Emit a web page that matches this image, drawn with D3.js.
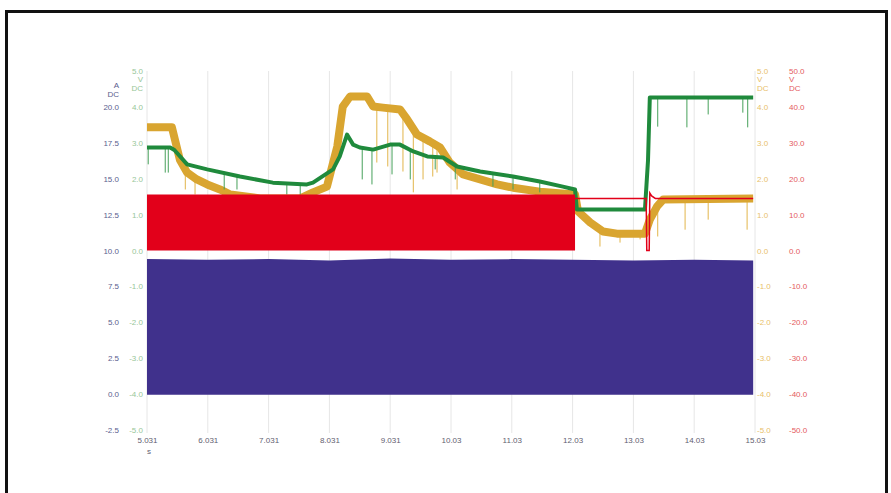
<!DOCTYPE html>
<html>
<head>
<meta charset="utf-8">
<script src="https://cdn.jsdelivr.net/npm/d3@7"></script>
<style>
  body { margin: 0; background: #fff; }
  svg { display: block; font-family: "Liberation Sans", Arial, sans-serif; }
</style>
</head>
<body>
<svg id="chart" width="891" height="493"></svg>
<script>
// time axis (s)
const timeTicks = [5, 6, 7, 8, 9, 10, 11, 12, 13, 14, 15];
const timeLabels = ["5.031", "6.031", "7.031", "8.031", "9.031", "10.03", "11.03", "12.03", "13.03", "14.03", "15.03"];

const ampTicks = [-2.5, 0, 2.5, 5, 7.5, 10, 12.5, 15, 17.5, 20];
const voltTicks = [-5, -4, -3, -2, -1, 0, 1, 2, 3, 4, 5];
const redTicks = [-50, -40, -30, -20, -10, 0, 10, 20, 30, 40, 50];

// green trace [t, V]
const greenT = [5.00, 5.38, 5.45, 5.66, 5.99, 6.53, 7.07, 7.63, 7.73, 8.06, 8.17, 8.29, 8.39, 8.50, 8.72, 9.00, 9.16, 9.38, 9.61, 9.87, 10.10, 10.48, 11.02, 11.46, 11.84, 12.04, 12.07, 13.19, 13.24, 13.27, 14.97];
const greenV = [2.87, 2.87, 2.80, 2.40, 2.26, 2.06, 1.89, 1.84, 1.89, 2.26, 2.62, 3.23, 2.95, 2.87, 2.81, 2.95, 2.95, 2.76, 2.62, 2.59, 2.34, 2.20, 2.06, 1.92, 1.78, 1.70, 1.14, 1.14, 2.50, 4.26, 4.26];
// green dropouts [t, low V]
const greenSpikeT = [5.02, 5.30, 5.35, 6.27, 6.48, 7.30, 7.52, 8.54, 8.70, 9.03, 9.33, 9.74, 10.07, 10.69, 11.02, 11.46, 13.40, 13.88, 14.23, 14.80, 14.88];
const greenSpikeV = [2.40, 2.17, 2.17, 1.70, 1.70, 1.56, 1.56, 1.98, 1.84, 2.12, 1.98, 2.26, 1.98, 1.78, 1.70, 1.62, 3.45, 3.43, 3.79, 3.84, 3.43];

// yellow trace [t, V]
const yellowT = [5.00, 5.41, 5.54, 5.66, 5.82, 5.99, 6.20, 6.37, 6.86, 7.52, 7.73, 7.96, 8.13, 8.22, 8.34, 8.62, 8.72, 8.88, 9.16, 9.28, 9.44, 9.65, 9.82, 9.98, 10.20, 10.48, 10.76, 11.02, 11.46, 12.04, 12.09, 12.29, 12.50, 12.73, 13.19, 13.27, 13.39, 13.49, 14.97];
const yellowV = [3.43, 3.43, 2.53, 2.17, 1.98, 1.84, 1.70, 1.56, 1.45, 1.45, 1.62, 1.78, 2.90, 4.01, 4.29, 4.29, 4.01, 3.98, 3.93, 3.65, 3.23, 3.04, 2.87, 2.45, 2.12, 1.98, 1.84, 1.75, 1.64, 1.56, 1.09, 0.78, 0.53, 0.47, 0.47, 0.86, 1.23, 1.42, 1.45];
const yellowSpikeT = [5.63, 5.79, 8.78, 8.96, 9.21, 9.38, 9.54, 9.70, 9.77, 10.10, 12.45, 12.78, 13.11, 13.40, 13.85, 14.23, 14.87];
const yellowSpikeV = [1.70, 1.56, 2.45, 2.34, 2.20, 1.62, 1.98, 2.06, 2.17, 1.70, 0.11, 0.22, 0.31, 0.39, 0.58, 0.86, 0.58];

// red PWM envelope (V) then single trace
const redBandT = [5.00, 12.04];
const redBandMin = [0, 0];
const redBandMax = [15.6, 15.6];
const redT = [12.04, 13.21, 13.22, 13.26, 13.27, 13.30, 13.36, 14.97];
const redV = [14.5, 14.5, 0, 0, 16.0, 15.2, 14.5, 14.5];

// blue current envelope (A)
const blueT = [5.00, 6.00, 7.00, 8.00, 9.00, 10.00, 11.00, 12.00, 13.00, 14.00, 14.97];
const blueMax = [9.40, 9.35, 9.40, 9.30, 9.45, 9.35, 9.40, 9.35, 9.30, 9.35, 9.30];
const blueMin = [-0.05, -0.05, -0.05, -0.05, -0.05, -0.05, -0.05, -0.05, -0.05, -0.05, -0.05];

const svg = d3.select("#chart");

// frame
svg.append("path")
  .attr("d", "M6.5,500 L6.5,11.5 L886.5,11.5 L886.5,500")
  .attr("fill", "none").attr("stroke", "#111").attr("stroke-width", 3);

const x = d3.scaleLinear().domain([5, 15]).range([147, 755]);
const yA = d3.scaleLinear().domain([-2.5, 22.5]).range([430, 71]);
const yV = d3.scaleLinear().domain([-5, 5]).range([430, 71]);
const yR = d3.scaleLinear().domain([-50, 50]).range([430, 71]);

const fmt = function ( d ) { return d.toFixed( 1 ); };

function valAt( ts, vs, t ) {
  const i = Math.max(1, d3.bisectLeft(ts, t));
  const t0 = ts[i - 1], t1 = ts[i];
  return vs[i - 1] + (vs[i] - vs[i - 1]) * (t - t0) / (t1 - t0);
}

// vertical grid
svg.append("g").selectAll("line").data(timeTicks).enter().append("line")
  .attr("x1", d => x(d)).attr("x2", d => x(d))
  .attr("y1", 71).attr("y2", 433)
  .attr("stroke", "#e6e6e6").attr("stroke-width", 1);

function styleAxis( g, color ) {
  g.select(".domain").remove();
  g.selectAll("text").attr("fill", color).style("font-size", "8px");
}

// left axes
svg.append("g").attr("transform", "translate(119,0)")
  .call(d3.axisLeft(yA).tickValues(ampTicks).tickSize(0).tickPadding(0).tickFormat(fmt))
  .call(g => styleAxis(g, "#5a5e8e"));
svg.append("g").attr("transform", "translate(143,0)")
  .call(d3.axisLeft(yV).tickValues(voltTicks).tickSize(0).tickPadding(0).tickFormat(fmt))
  .call(g => styleAxis(g, "#98c698"));
// right axes
svg.append("g").attr("transform", "translate(757,0)")
  .call(d3.axisRight(yV).tickValues(voltTicks).tickSize(0).tickPadding(0).tickFormat(fmt))
  .call(g => styleAxis(g, "#e8c06a"));
svg.append("g").attr("transform", "translate(789,0)")
  .call(d3.axisRight(yR).tickValues(redTicks).tickSize(0).tickPadding(0).tickFormat(fmt))
  .call(g => styleAxis(g, "#e45a5e"));

// unit headers
const units = [
  { x: 119, a: "end", c: "#5a5e8e", t: ["A", "DC"], y0: 85 },
  { x: 143, a: "end", c: "#98c698", t: ["V", "DC"], y0: 79 },
  { x: 757, a: "start", c: "#e8c06a", t: ["V", "DC"], y0: 79 },
  { x: 789, a: "start", c: "#e45a5e", t: ["V", "DC"], y0: 79 }
];
units.forEach(function ( u ) {
  u.t.forEach(function ( s, i ) {
    svg.append("text").attr("x", u.x).attr("y", u.y0 + i * 9).attr("dy", "0.32em")
      .attr("text-anchor", u.a).attr("fill", u.c).style("font-size", "8px").text(s);
  });
});

// x axis
svg.append("g").attr("transform", "translate(0,433)")
  .call(d3.axisBottom(x).tickValues(timeTicks).tickSize(0).tickPadding(4)
    .tickFormat((d, i) => timeLabels[i]))
  .call(g => styleAxis(g, "#5f6070"));
svg.append("text").attr("x", x(5) + 2).attr("y", 454).attr("text-anchor", "middle")
  .attr("fill", "#5f6070").style("font-size", "8px").text("s");

const line = d3.line();

// yellow
svg.append("g").selectAll("line").data(yellowSpikeT).enter().append("line")
  .attr("x1", d => x(d)).attr("x2", d => x(d))
  .attr("y1", d => yV(valAt(yellowT, yellowV, d)))
  .attr("y2", (d, i) => yV(yellowSpikeV[i]))
  .attr("stroke", "#e2b54a").attr("stroke-width", 1);
svg.append("path").attr("d", line(yellowT.map((t, i) => [x(t), yV(yellowV[i])])))
  .attr("fill", "none").attr("stroke", "#d9a530").attr("stroke-width", 8)
  .attr("stroke-linejoin", "round");

// green
svg.append("g").selectAll("line").data(greenSpikeT).enter().append("line")
  .attr("x1", d => x(d)).attr("x2", d => x(d))
  .attr("y1", d => yV(valAt(greenT, greenV, d)))
  .attr("y2", (d, i) => yV(greenSpikeV[i]))
  .attr("stroke", "#46a05a").attr("stroke-width", 1);
svg.append("path").attr("d", line(greenT.map((t, i) => [x(t), yV(greenV[i])])))
  .attr("fill", "none").attr("stroke", "#1f8a3c").attr("stroke-width", 4)
  .attr("stroke-linejoin", "round");

// red
const redArea = d3.area().x(d => x(d.t)).y0(d => yR(d.lo)).y1(d => yR(d.hi));
svg.append("path")
  .attr("d", redArea(redBandT.map((t, i) => ({ t: t, lo: redBandMin[i], hi: redBandMax[i] }))))
  .attr("fill", "#e2001a");
svg.append("path").attr("d", line(redT.map((t, i) => [x(t), yR(redV[i])])))
  .attr("fill", "none").attr("stroke", "#e2001a").attr("stroke-width", 1.5);

// blue
const blueArea = d3.area().x(d => x(d.t)).y0(d => yA(d.lo)).y1(d => yA(d.hi));
svg.append("path")
  .attr("d", blueArea(blueT.map((t, i) => ({ t: t, lo: blueMin[i], hi: blueMax[i] }))))
  .attr("fill", "#40318c");
</script>
</body>
</html>
